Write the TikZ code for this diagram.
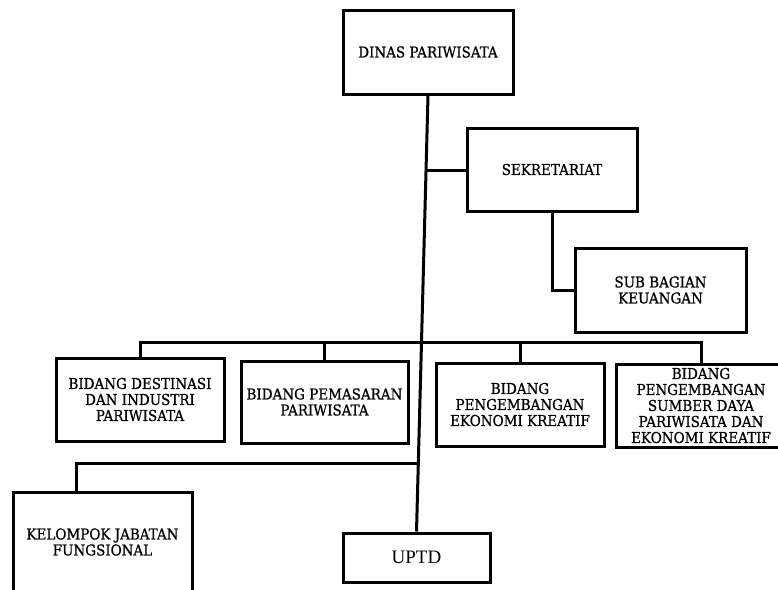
\documentclass[tikz,border=0pt]{standalone}
\usepackage{fontspec}
\setmainfont{DejaVu Serif Condensed}[UprightFeatures={FakeBold=0.8}]
\newfontfamily\uptdfont{Liberation Serif}
\usetikzlibrary{calc}

\begin{document}
\begin{tikzpicture}[x=1pt,y=-1pt,line width=3pt]
   \useasboundingbox (0,0) rectangle (778,589);
   \begin{scope}[every node/.style={rectangle,draw=black,align=center,inner sep=1pt,
       font=\fontsize{15}{16}\selectfont}]
    \node[minimum width=170,minimum height=84] (dinas) at (428,52) {DINAS PARIWISATA};
    \node[minimum width=170,minimum height=83] (sek) at (552,169.5) {SEKRETARIAT};
    \node[minimum width=171,minimum height=84] (sub) at (660.5,290) {SUB BAGIAN\\KEUANGAN};
    \node[minimum width=168,minimum height=83] (bid1) at (140,399.5) {BIDANG DESTINASI\\DAN INDUSTRI\\PARIWISATA};
    \node[minimum width=167,minimum height=82] (bid2) at (324.5,402) {BIDANG PEMASARAN\\PARIWISATA};
    \node[minimum width=168,minimum height=83] (bid3) at (520,404.5) {BIDANG\\PENGEMBANGAN\\EKONOMI KREATIF};
    \node[minimum width=170,minimum height=83] (bid4) at (701,405.5) {BIDANG\\PENGEMBANGAN\\SUMBER DAYA\\PARIWISATA DAN\\EKONOMI KREATIF};
    \node[minimum width=179,minimum height=100] (kel) at (102.5,542) {KELOMPOK JABATAN\\FUNGSIONAL};
    \node[minimum width=147,minimum height=49,font=\uptdfont\fontsize{19}{22}\selectfont] (uptd) at (416.5,557.5) {UPTD};
   \end{scope}
   \path (dinas.south) -- (uptd.north)
      coordinate[pos=0.173] (jsek)
      coordinate[pos=0.567] (jbid)
      coordinate[pos=0.845] (jkel);
   \begin{scope}[every edge/.style={draw=black}]
    \draw (dinas.south) edge (uptd.north);
    \draw (jsek) edge (jsek -| sek.west);
    \draw (sek.south) |- (sub.west);
    \draw (bid1.north) -- (bid1.north |- jbid) -- (bid4.north |- jbid) -- (bid4.north);
    \foreach \b in {bid2,bid3}
      \draw (\b.north) edge (\b.north |- jbid);
    \draw (jkel) -| ([xshift=65]kel.north west);
   \end{scope}
\end{tikzpicture}
\end{document}
